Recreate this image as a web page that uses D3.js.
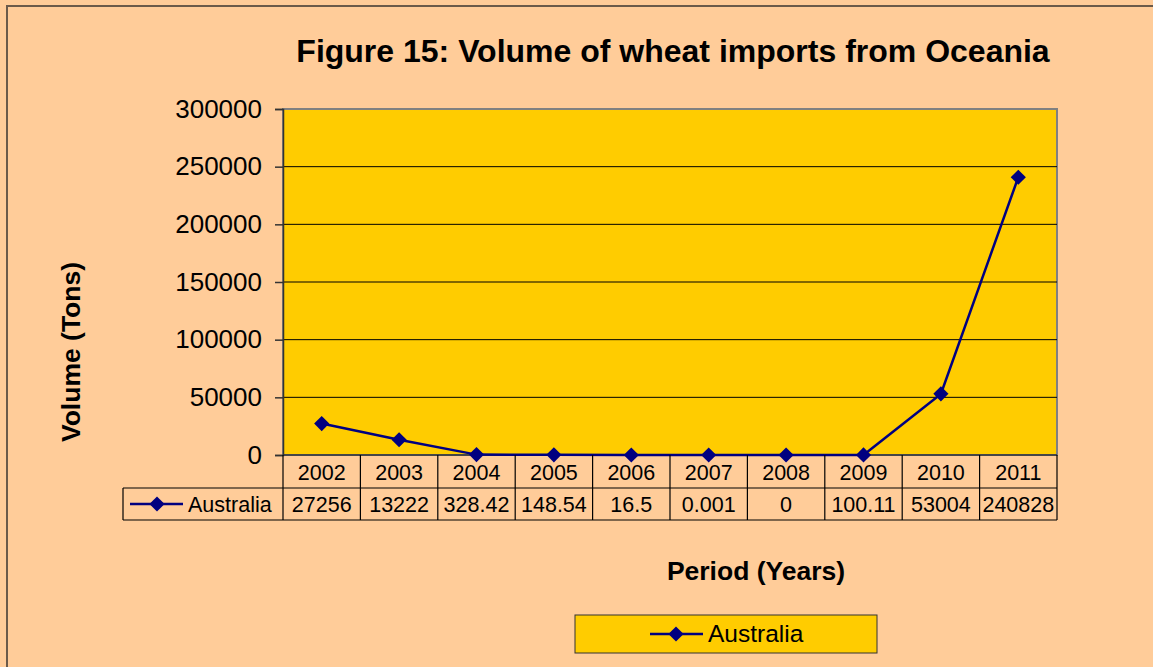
<!DOCTYPE html>
<html><head><meta charset="utf-8">
<script src="https://cdn.jsdelivr.net/npm/d3@7"></script>
<style>body{margin:0;background:#FFCC99;} svg{display:block;font-family:"Liberation Sans",Arial,sans-serif;}</style>
</head><body>
<svg id="c" width="1153" height="667"></svg>
<script>
const years = ["2002","2003","2004","2005","2006","2007","2008","2009","2010","2011"];
const australia = [27256, 13222, 328.42, 148.54, 16.5, 0.001, 0, 100.11, 53004, 240828];
const tableLabels = ["27256","13222","328.42","148.54","16.5","0.001","0","100.11","53004","240828"];
const yTicks = [0, 50000, 100000, 150000, 200000, 250000, 300000];
const seriesName = "Australia";

const svg = d3.select("#c");
svg.append("rect").attr("x",7).attr("y",6).attr("width",1160).attr("height",680)
  .attr("fill","#FFCC99").attr("stroke","#6b5a4a").attr("stroke-width",2);

const L=283, R=1057, T=109, B=455;
const x = d3.scaleBand().domain(years).range([L,R]);
const y = d3.scaleLinear().domain([0,300000]).range([B,T]);
const diamond = d3.symbol(d3.symbolSquare, 115)();
const mk = (sel)=>sel.attr("d",diamond).attr("fill","#000080");

svg.append("rect").attr("x",L).attr("y",T).attr("width",R-L).attr("height",B-T)
  .attr("fill","#FFCC00").attr("stroke","#808080").attr("stroke-width",2);

// gridlines
svg.append("g").selectAll("line").data(yTicks.slice(1,-1)).join("line")
  .attr("x1",L).attr("x2",R).attr("y1",d=>y(d)).attr("y2",d=>y(d))
  .attr("stroke","#000").attr("stroke-width",1);

// y axis
const yAxis = d3.axisLeft(y).tickValues(yTicks).tickSize(8).tickPadding(13).tickFormat(d3.format("d"));
const ga = svg.append("g").attr("transform",`translate(${L},0)`).call(yAxis);
ga.select(".domain").attr("stroke","#333").attr("stroke-width",1.5);
ga.selectAll(".tick line").attr("stroke","#333").attr("stroke-width",1.5);
ga.selectAll("text").attr("font-size",26).attr("fill","#000").attr("font-family","Liberation Sans, Arial, sans-serif");
svg.append("line").attr("x1",L).attr("x2",R).attr("y1",B).attr("y2",B).attr("stroke","#333").attr("stroke-width",1.5);

// line and markers
const cx = (i)=>x(years[i])+x.bandwidth()/2;
const line = d3.line().x((d,i)=>cx(i)).y(d=>y(d));
svg.append("path").datum(australia).attr("d",line).attr("fill","none").attr("stroke","#000080").attr("stroke-width",2.5);
svg.append("g").selectAll("path").data(australia).join("path")
  .attr("transform",(d,i)=>`translate(${cx(i)},${y(d)}) rotate(45)`).call(mk);

// data table
const rowH1=33, rowH2=32, tY1=B, tY2=B+rowH1, tY3=B+rowH1+rowH2;
const tg = svg.append("g").attr("stroke","#000").attr("stroke-width",1.2);
tg.selectAll(".v").data(years.concat(["end"])).join("line")
  .attr("x1",(d,i)=>L+i*x.bandwidth()).attr("x2",(d,i)=>L+i*x.bandwidth())
  .attr("y1",tY1).attr("y2",tY3);
tg.append("line").attr("x1",123).attr("x2",R).attr("y1",tY2).attr("y2",tY2);
tg.append("line").attr("x1",123).attr("x2",R).attr("y1",tY3).attr("y2",tY3);
tg.append("line").attr("x1",123).attr("x2",123).attr("y1",tY2).attr("y2",tY3);

svg.append("g").selectAll("text").data(years).join("text")
  .attr("x",d=>x(d)+x.bandwidth()/2).attr("y",tY1+rowH1/2+8)
  .attr("text-anchor","middle").attr("font-size",21.5).text(d=>d);
svg.append("g").selectAll("text").data(tableLabels).join("text")
  .attr("x",(d,i)=>cx(i)).attr("y",tY2+rowH2/2+8)
  .attr("text-anchor","middle").attr("font-size",21.5).text(d=>d);
// legend key in table
svg.append("line").attr("x1",130).attr("x2",183).attr("y1",tY2+rowH2/2).attr("y2",tY2+rowH2/2).attr("stroke","#000080").attr("stroke-width",2.5);
svg.append("path").attr("transform",`translate(157,${tY2+rowH2/2}) rotate(45)`).call(mk);
svg.append("text").attr("x",188).attr("y",tY2+rowH2/2+8).attr("font-size",21.5).text(seriesName);

// titles
svg.append("text").attr("x",673).attr("y",62).attr("text-anchor","middle").attr("font-size",32).attr("font-weight","bold").text("Figure 15: Volume of wheat imports from Oceania");
svg.append("text").attr("transform","translate(80,352) rotate(-90)").attr("text-anchor","middle").attr("font-size",26.5).attr("font-weight","bold").text("Volume (Tons)");
svg.append("text").attr("x",756).attr("y",580).attr("text-anchor","middle").attr("font-size",26.5).attr("font-weight","bold").text("Period (Years)");

// legend
svg.append("rect").attr("x",575).attr("y",615).attr("width",302).attr("height",38).attr("fill","#FFCC00").attr("stroke","#333").attr("stroke-width",1);
svg.append("line").attr("x1",650).attr("x2",703).attr("y1",634).attr("y2",634).attr("stroke","#000080").attr("stroke-width",2.5);
svg.append("path").attr("transform","translate(676,634) rotate(45)").call(mk);
svg.append("text").attr("x",708).attr("y",642).attr("font-size",24.5).text(seriesName);
</script>
</body></html>
